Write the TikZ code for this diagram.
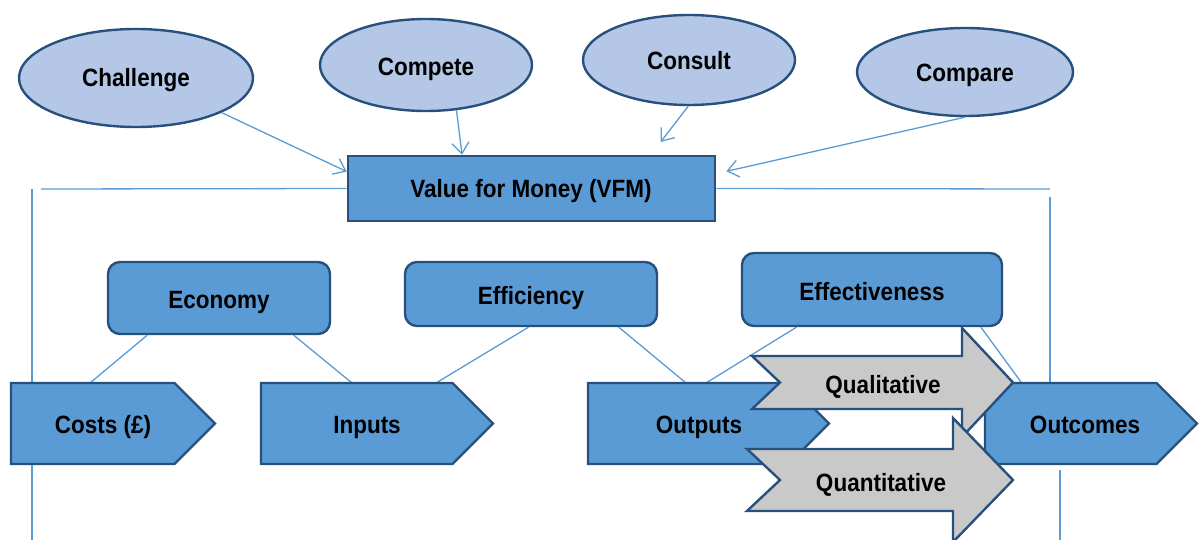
\documentclass[tikz,border=0pt]{standalone}
\usepackage{fontspec}
\setmainfont{Liberation Sans}[FakeStretch=0.9]
\usetikzlibrary{shapes.geometric,arrows.meta,calc}

\definecolor{edge}{RGB}{40,80,125}
\definecolor{boxfill}{RGB}{91,155,213}
\definecolor{ovalfill}{RGB}{180,199,231}
\definecolor{greyfill}{RGB}{201,201,201}
\definecolor{linkblue}{RGB}{91,155,213}

\tikzset{
  oval/.style={ellipse, draw=edge, fill=ovalfill, line width=2.4pt, inner sep=0pt},
  vfmbox/.style={rectangle, draw=edge, fill=boxfill, line width=2.6pt, inner sep=0pt},
  rbox/.style={rectangle, rounded corners=12pt, draw=edge, fill=boxfill, line width=2.4pt, inner sep=0pt},
  plate/.style={draw=edge, fill=boxfill, line width=2.4pt, line join=miter},
  greyarrow/.style={draw=edge, fill=greyfill, line width=2.4pt, line join=miter},
  txt/.style={font=\fontsize{25}{30}\selectfont\bfseries, text=black, anchor=base, inner sep=0pt},
  link/.style={draw=linkblue, line width=1.3pt},
  feed/.style={link, -{Straight Barb[length=11pt,width=17pt,line width=1.3pt]}},
}

% pentagon pointing right: left x, tip x, top y, bottom y
\newcommand{\plateshape}[4]{%
  \draw[plate] (#1,#3) -- ({#2-40.5},#3) -- (#2,{(#3+#4)/2}) -- ({#2-40.5},#4) -- (#1,#4) -- cycle;}

\begin{document}
\begin{tikzpicture}[x=1pt,y=-1pt]
\useasboundingbox (0,0) rectangle (1199,540);

% the four C's
\node[oval, minimum width=234pt, minimum height=98pt] (challenge) at (136,78) {};
\node[oval, minimum width=212pt, minimum height=92pt] (compete) at (426,65) {};
\node[oval, minimum width=212pt, minimum height=90pt] (consult) at (689,60) {};
\node[oval, minimum width=216pt, minimum height=88pt] (compare) at (965,72) {};

% central box
\node[vfmbox, minimum width=367pt, minimum height=65pt] (vfm) at (531.5,188.5) {};

% the three E's
\node[rbox, minimum width=222pt, minimum height=72pt] (economy) at (219,298) {};
\node[rbox, minimum width=252pt, minimum height=64pt] (efficiency) at (531,294) {};
\node[rbox, minimum width=260pt, minimum height=73pt] (effectiveness) at (872,289.5) {};

% anchor points on the chain of pentagons
\coordinate (costsA) at (90,383);
\coordinate (inputsA) at (352,383);
\coordinate (inputsB) at (436,383);
\coordinate (outputsA) at (686,383);
\coordinate (outputsB) at (706,383);
\coordinate (outcomesA) at (1021,382);
\coordinate (leftTop) at (32,189);
\coordinate (leftBot) at (32,540);
\coordinate (leftEnd) at (41,189);
\coordinate (rightEnd) at (1050,189);
\coordinate (rightTop) at (1050,197);
\coordinate (rightMid) at (1050,383);
\coordinate (rightLow) at (1060,470);
\coordinate (rightBot) at (1060,540);

% arrows into the VFM box
\draw[feed] (challenge.-22.6) -- ($(vfm.north west)!0.25!(vfm.south west)$);
\draw[feed] (compete.-56.6) -- ($(vfm.north west)!0.312!(vfm.north east)$);
\draw[feed, shorten >=16pt] (consult.-91) -- ($(vfm.north west)!0.823!(vfm.north east)$);
\draw[feed, shorten >=10.3pt] (compare.south) -- ($(vfm.north east)!0.28!(vfm.south east)$);

% frame lines
\draw[link] (vfm.west) -- (leftEnd);
\draw[link] (leftTop) -- (leftBot);
\draw[link] (vfm.east) -- (rightEnd);
\draw[link] (rightTop) -- (rightMid);
\draw[link] (rightLow) -- (rightBot);

% links from the E's
\draw[link] ($(economy.south west)!0.18!(economy.south east)$) -- (costsA);
\draw[link] ($(economy.south west)!0.833!(economy.south east)$) -- (inputsA);
\draw[link] ($(efficiency.south west)!0.49!(efficiency.south east)$) -- (inputsB);
\draw[link] ($(efficiency.south west)!0.845!(efficiency.south east)$) -- (outputsA);
\draw[link] ($(effectiveness.south west)!0.212!(effectiveness.south east)$) -- (outputsB);
\draw[link] ($(effectiveness.south west)!0.915!(effectiveness.south east)$) -- (outcomesA);

% chain of pentagons
\plateshape{11}{215}{383}{464}
\plateshape{261}{493}{383}{464}
\plateshape{588}{829}{383}{464}
\plateshape{985}{1197}{383}{464}

% qualitative / quantitative arrows
\draw[greyarrow] (752,356) -- (962,356) -- (962,328) -- (1013,382.5) -- (962,437) -- (962,409) -- (752,409) -- (780,382.5) -- cycle;
\draw[greyarrow] (747,449) -- (953,449) -- (953,418) -- (1013,480) -- (953,542) -- (953,511) -- (747,511) -- (780,480) -- cycle;

% texts
\node[txt] (tChallenge) at (136,87) {Challenge};
\node[txt] (tCompete) at (426,76) {Compete};
\node[txt] (tConsult) at (689,70) {Consult};
\node[txt] (tCompare) at (965,82) {Compare};
\node[txt] (tVfm) at (531,198) {Value for Money (VFM)};
\node[txt] (tEconomy) at (219,308) {Economy};
\node[txt] (tEfficiency) at (531,304) {Efficiency};
\node[txt] (tEffectiveness) at (872,300) {Effectiveness};
\node[txt] (tCosts) at (103,433) {Costs (£)};
\node[txt] (tInputs) at (367,433) {Inputs};
\node[txt] (tOutputs) at (699,433) {Outputs};
\node[txt] (tOutcomes) at (1085,433) {Outcomes};
\node[txt] (tQual) at (883,393) {Qualitative};
\node[txt] (tQuant) at (881,491) {Quantitative};
\end{tikzpicture}
\end{document}
